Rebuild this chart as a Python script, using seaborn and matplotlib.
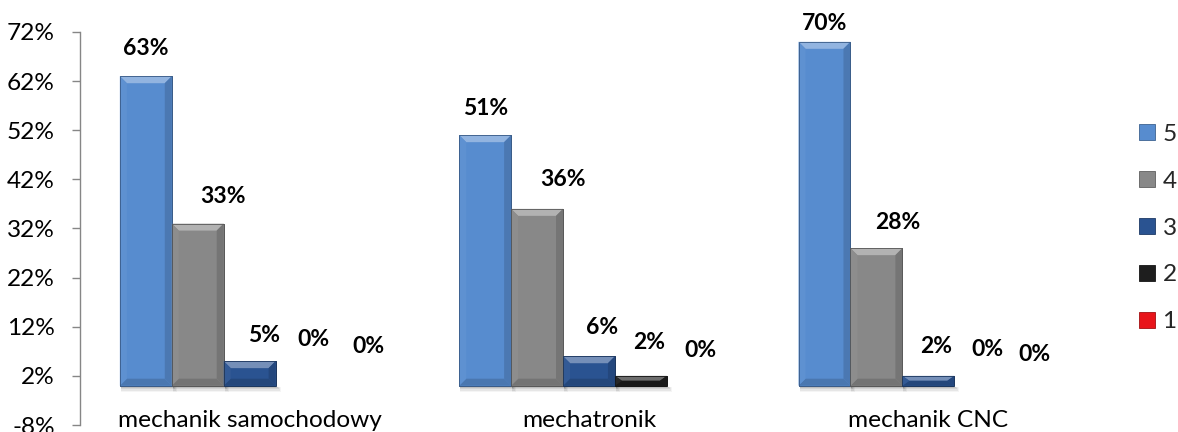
import numpy as np
import pandas as pd
import seaborn as sns
import matplotlib.pyplot as plt
from matplotlib.patches import Polygon, Rectangle, Patch
from matplotlib import colors as mcolors

# ---- data -------------------------------------------------------------
categories = ["mechanik samochodowy", "mechatronik", "mechanik CNC"]
grades = ["5", "4", "3", "2", "1"]
share_5 = [63, 51, 70]
share_4 = [33, 36, 28]
share_3 = [5, 6, 2]
share_2 = [0, 2, 0]
share_1 = [0, 0, 0]
y_ticks = [-8, 2, 12, 22, 32, 42, 52, 62, 72]

grade_colors = ["#578CCF", "#888888", "#2A5391", "#1E1E1E", "#E8141A"]

# value-label nudges in pixels (right, up) from each bar's top centre,
# listed per grade, one entry per category
label_dx = [[0, 0, 0], [25, 26, 21], [14, 13, 8], [12, 8, 7], [15, 8, 2]]
label_dy = [[28, 27, 18], [27, 29, 26], [26, 29, 29], [46, 33, 36], [39, 35, 31]]

shares = [share_5, share_4, share_3, share_2, share_1]
df = pd.DataFrame(
    [(c, g, v) for g, vals in zip(grades, shares) for c, v in zip(categories, vals)],
    columns=["kierunek", "ocena", "udzial"],
)

# ---- style ------------------------------------------------------------
sns.set_style("white")
plt.rcParams["font.family"] = ["Lato", "DejaVu Sans"]
FS = 17.6       # axis and legend text
FS_VAL = 16.5   # bold value labels

fig = plt.figure(figsize=(11.78, 4.32), dpi=100)
ax = fig.add_axes([80 / 1178, 7 / 432, 1018 / 1178, 393 / 432])

sns.barplot(
    data=df, x="kierunek", y="udzial", hue="ocena",
    order=categories, hue_order=grades, palette=grade_colors,
    width=0.765, saturation=1, legend=False, ax=ax, zorder=3,
)

ax.set_xlim(-0.5, 2.5)
ax.set_ylim(-8, 72)
ax.set_yticks(y_ticks)
ax.set_yticklabels([f"{t}%" for t in y_ticks])
ax.set_xlabel("")
ax.set_ylabel("")

for side in ["top", "right", "bottom"]:
    ax.spines[side].set_visible(False)
ax.spines["left"].set_color("#868686")
ax.spines["left"].set_linewidth(1.0)
ax.tick_params(axis="y", direction="out", length=6, width=1.0, color="#868686",
               labelsize=FS, labelcolor="#000000", pad=12, left=True)
ax.tick_params(axis="x", length=0, labelsize=FS, labelcolor="#000000", pad=-11)

# ---- bevelled bar faces and soft shadows ------------------------------
p0 = ax.transData.transform((0, 0))
p1 = ax.transData.transform((1, 1))
px_x = p1[0] - p0[0]
px_y = p1[1] - p0[1]


def shade(color, amount):
    rgb = np.array(mcolors.to_rgb(color))
    if amount >= 0:
        return tuple(rgb + (1 - rgb) * amount)
    return tuple(rgb * (1 + amount))


for gi, container in enumerate(ax.containers):
    base = grade_colors[gi]
    for ci, bar in enumerate(container):
        x0, y0 = bar.get_x(), bar.get_y()
        w, h = bar.get_width(), bar.get_height()
        x1, y1 = x0 + w, y0 + h

        # value label
        ax.annotate(f"{h:.0f}%", (x0 + w / 2, y1),
                    xytext=(label_dx[gi][ci], label_dy[gi][ci]),
                    textcoords="offset pixels", ha="center", va="center",
                    fontsize=FS_VAL, fontweight="bold", color="#000000", zorder=6)
        if h <= 0:
            continue

        bar.set_edgecolor(shade(base, -0.35))
        bar.set_linewidth(0.6)

        # soft drop shadow under the bar
        for k, a in enumerate([0.10, 0.08, 0.06, 0.04]):
            ax.add_patch(Rectangle((x0 + 1 / px_x, y0 - (2 + 1.5 * k) / px_y),
                                   w + (1 + k) / px_x, (2 + 1.5 * k) / px_y,
                                   facecolor="#000000", alpha=a, lw=0, zorder=2))

        bx = 7 / px_x
        by = min(7 / px_y, h / 2)
        faces = [
            ([(x0, y1), (x1, y1), (x1 - bx, y1 - by), (x0 + bx, y1 - by)], 0.35),
            ([(x0, y0), (x1, y0), (x1 - bx, y0 + by), (x0 + bx, y0 + by)], -0.15),
            ([(x0, y0), (x0, y1), (x0 + bx, y1 - by), (x0 + bx, y0 + by)], 0.04),
            ([(x1, y0), (x1, y1), (x1 - bx, y1 - by), (x1 - bx, y0 + by)], -0.14),
        ]
        for pts, amt in faces:
            ax.add_patch(Polygon(pts, closed=True, facecolor=shade(base, amt),
                                 edgecolor="none", zorder=4))
        ax.add_patch(Rectangle((x0, y0), w, h, facecolor="none",
                               edgecolor=shade(base, -0.35), lw=0.6, zorder=5))

# ---- legend -----------------------------------------------------------
handles = [Patch(facecolor=c, edgecolor=shade(c, -0.3), linewidth=0.6)
           for c in grade_colors]
fig.legend(handles, grades, loc="center left",
           bbox_to_anchor=(1139 / 1178, 1 - 228 / 432),
           frameon=False, fontsize=FS, handlelength=0.66, handleheight=0.66,
           handletextpad=0.3, labelspacing=1.06, borderpad=0, borderaxespad=0)

fig.savefig("out.png", dpi=100)
